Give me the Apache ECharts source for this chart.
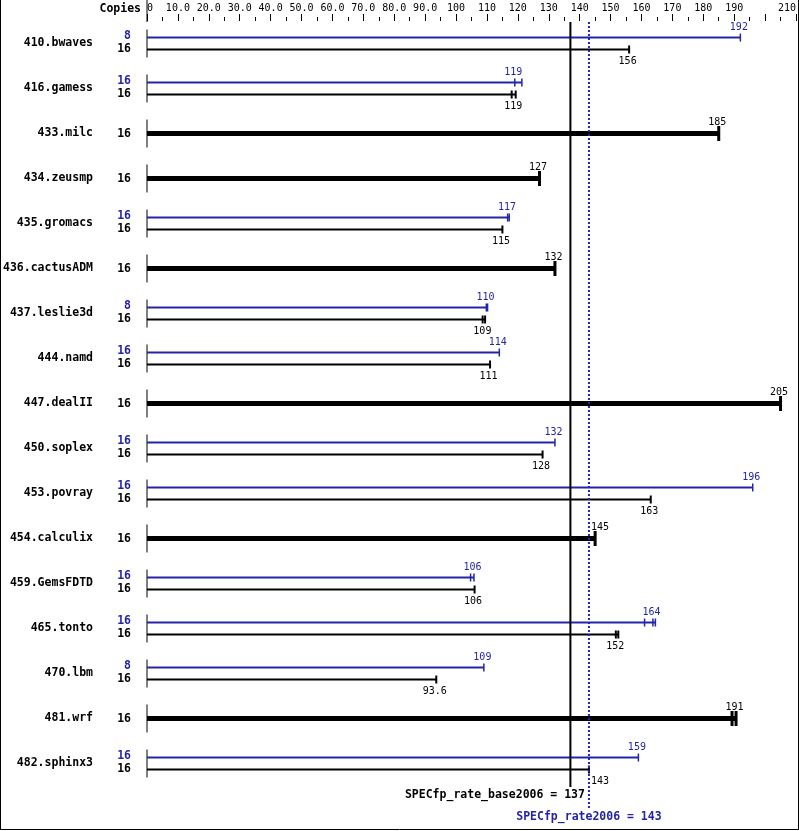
<!DOCTYPE html>
<html>
<head>
<meta charset="utf-8">
<script src="https://cdn.jsdelivr.net/npm/echarts@6/dist/echarts.min.js"></script>
<style>html,body{margin:0;padding:0;background:#fff}#c{width:799px;height:831px}</style>
</head>
<body>
<div id="c"></div>
<script>
const benchmarks = ['410.bwaves','416.gamess','433.milc','434.zeusmp','435.gromacs','436.cactusADM','437.leslie3d','444.namd','447.dealII','450.soplex','453.povray','454.calculix','459.GemsFDTD','465.tonto','470.lbm','481.wrf','482.sphinx3'];
const peakCopies = [8,16,null,null,16,null,8,16,null,16,16,null,16,16,8,null,16];
const baseCopies = [16,16,16,16,16,16,16,16,16,16,16,16,16,16,16,16,16];
const peakValues = [192,119,null,null,117,null,110,114,null,132,196,null,105.8,163.7,109,null,159];
const baseValues = [156,119,185,127,115,132,109,111,205,128,163,145,106,152,93.6,190.6,143];
const peakRuns = [[192],[119,121.3],null,null,[116.7,117.2],null,[109.8,110.2],[114],null,[132],[196],null,[104.7,105.8],[161,163.7,164.5],[109],null,[159]];
const baseRuns = [[156],[118,119.3],[185],[127],[115],[132],[108.6,109.4],[111],[205],[128],[163],[145],[106],[151.7,152.5],[93.6],[189.3,190.6],[143]];
const baseMean = 137;
const peakMean = 143;
const baseMeanLabel = 'SPECfp_rate_base2006 = 137';
const peakMeanLabel = 'SPECfp_rate2006 = 143';
const tickLabels = ['0','10.0','20.0','30.0','40.0','50.0','60.0','70.0','80.0','90.0','100','110','120','130','140','150','160','170','180','190','','210'];

const BLUE = '#2424a8';
const BOLD = 'bold 11.5px "DejaVu Sans Mono"';
const NUM = '10px "DejaVu Sans Mono"';
function fmt(v){ return v >= 100 ? String(Math.round(v)) : v.toFixed(1); }

const chart = echarts.init(document.getElementById('c'));

function renderRow(params, api) {
  const i = api.value(1);
  const origin = api.coord([0, i]);
  const x0 = origin[0], yc = origin[1];
  const peakX = api.coord([peakMean, i])[0];
  const children = [];
  children.push({type:'line', shape:{x1:x0, y1:yc-14, x2:x0, y2:yc+14}, style:{stroke:'#000', lineWidth:1}});
  function labelX(v, txt) {
    let cx = api.coord([v, i])[0] - 1.5;
    const w = txt.length * 6;
    if (cx - w/2 < peakX + 2 && cx + w/2 > peakX - 2) return {x: peakX + 2, align: 'left'};
    return {x: cx, align: 'center'};
  }
  function bar(y, val, runs, color, lw, capH, capW, labelDy) {
    const maxRun = Math.max.apply(null, runs);
    const xe = api.coord([maxRun, i])[0];
    children.push({type:'line', shape:{x1:x0, y1:y, x2:xe, y2:y}, style:{stroke:color, lineWidth:lw}});
    runs.forEach(r => {
      const xr = api.coord([r, i])[0];
      children.push({type:'line', shape:{x1:xr, y1:y-capH, x2:xr, y2:y+capH}, style:{stroke:color, lineWidth:capW}});
    });
    const t = fmt(val);
    const lp = labelX(val, t);
    children.push({type:'text', style:{text:t, x:lp.x, y:y+labelDy, fill:color, font:NUM, align:lp.align, verticalAlign:'middle'}});
  }
  if (peakValues[i] != null) {
    bar(yc-6, peakValues[i], peakRuns[i], BLUE, 2, 4, 1.5, -10);
    bar(yc+6, baseValues[i], baseRuns[i], '#000', 2, 4, 2, 12);
    children.push({type:'text', style:{text:String(peakCopies[i]), x:x0-16, y:yc-7, fill:BLUE, font:BOLD, align:'right', verticalAlign:'middle'}});
    children.push({type:'text', style:{text:String(baseCopies[i]), x:x0-16, y:yc+6, fill:'#000', font:BOLD, align:'right', verticalAlign:'middle'}});
  } else {
    bar(yc, baseValues[i], baseRuns[i], '#000', 5, 7.5, 3, -11);
    children.push({type:'text', style:{text:String(baseCopies[i]), x:x0-16, y:yc+1, fill:'#000', font:BOLD, align:'right', verticalAlign:'middle'}});
  }
  return {type:'group', children};
}

function renderMean(params, api) {
  const cs = params.coordSys;
  const v = api.value(0);
  const x = api.coord([v, 0])[0];
  const isPeak = api.value(1) === 1;
  const children = [];
  if (isPeak) {
    children.push({type:'line', shape:{x1:x, y1:cs.y+1, x2:x, y2:cs.y+cs.height+22}, style:{stroke:BLUE, lineWidth:2, lineDash:[2,2]}});
    children.push({type:'text', style:{text:peakMeanLabel, x:x, y:cs.y+cs.height+31, fill:BLUE, font:BOLD, align:'center', verticalAlign:'middle'}});
  } else {
    const px = api.coord([peakMean, 0])[0];
    children.push({type:'line', shape:{x1:x, y1:cs.y+1, x2:x, y2:cs.y+cs.height+1}, style:{stroke:'#000', lineWidth:2}});
    children.push({type:'text', style:{text:baseMeanLabel, x:px-4, y:cs.y+cs.height+9, fill:'#000', font:BOLD, align:'right', verticalAlign:'middle'}});
    const x0 = api.coord([0, 0])[0];
    children.push({type:'line', shape:{x1:x0, y1:0, x2:x0, y2:cs.y+1}, style:{stroke:'#000', lineWidth:1}});
    children.push({type:'text', style:{text:'Copies', x:x0-6, y:9, fill:'#000', font:BOLD, align:'right', verticalAlign:'middle'}});
  }
  return {type:'group', children};
}

chart.setOption({
  animation: false,
  backgroundColor: '#fff',
  grid: {left: 147, right: 3, top: 21, bottom: 45},
  xAxis: {
    type: 'value', position: 'top', min: 0, max: 210, interval: 10,
    axisLine: {show: false},
    axisTick: {show: true, length: 7, lineStyle: {color: '#000', width: 1}},
    minorTick: {show: true, splitNumber: 2, length: 4, lineStyle: {color: '#000', width: 1}},
    splitLine: {show: false},
    axisLabel: {
      margin: 8, color: '#000', fontFamily: 'DejaVu Sans Mono', fontSize: 10,
      alignMinLabel: 'left', alignMaxLabel: 'right',
      formatter: v => tickLabels[Math.round(v / 10)]
    }
  },
  yAxis: {
    type: 'category', inverse: true, data: benchmarks,
    axisLine: {show: false}, axisTick: {show: false}, splitLine: {show: false},
    axisLabel: {margin: 54, color: '#000', fontFamily: 'DejaVu Sans Mono', fontWeight: 'bold', fontSize: 11.5}
  },
  graphic: [
    {type:'line', shape:{x1:0.5, y1:0, x2:0.5, y2:830}, style:{stroke:'#000', lineWidth:1}},
    {type:'line', shape:{x1:798.5, y1:0, x2:798.5, y2:830}, style:{stroke:'#000', lineWidth:1}},
    {type:'line', shape:{x1:0, y1:829.5, x2:799, y2:829.5}, style:{stroke:'#000', lineWidth:1}}
  ],
  series: [
    {type:'custom', renderItem: renderRow, clip:false, data: benchmarks.map((b, i) => [0, i]), encode:{x:0, y:1}, z:2},
    {type:'custom', renderItem: renderMean, clip:false, data: [[baseMean, 0], [peakMean, 1]], encode:{x:0}, z:5}
  ]
});
</script>
</body>
</html>
